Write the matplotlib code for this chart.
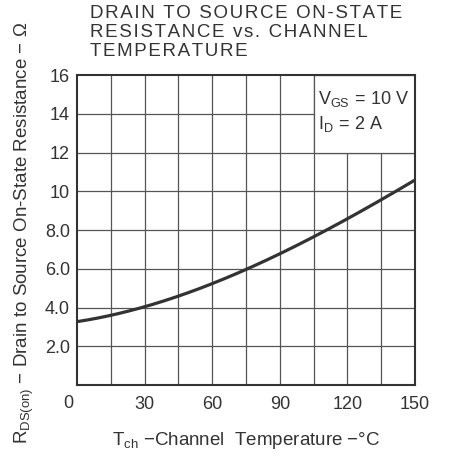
import numpy as np
import matplotlib.pyplot as plt
from matplotlib.patches import Rectangle

plt.rcParams['font.family'] = ['Liberation Sans', 'DejaVu Sans']
plt.rcParams['mathtext.fontset'] = 'custom'
plt.rcParams['mathtext.rm'] = 'Liberation Sans'
plt.rcParams['mathtext.it'] = 'Liberation Sans'

# curve
tch = [0, 15, 30, 45, 60, 75, 90, 105, 120, 135, 150]
rds = [3.26, 3.61, 4.04, 4.59, 5.24, 5.95, 6.75, 7.66, 8.59, 9.57, 10.57]

xticks = [30, 60, 90, 120, 150]
yticks = [2, 4, 6, 8, 10, 12, 14, 16]
ylabels = ['2.0', '4.0', '6.0', '8.0', '10', '12', '14', '16']

title_lines = ['DRAIN TO SOURCE ON-STATE', 'RESISTANCE vs. CHANNEL', 'TEMPERATURE']

ink = '#333333'
gridc = '#555555'


def spaced(s, gap='\u200a'):
    return gap.join(s)


fig = plt.figure(figsize=(4.5, 4.7), dpi=100)
ax = fig.add_axes([77/450, 85/470, 338/450, 310/470])

# grid
for x in range(15, 150, 15):
    ax.axvline(x, color=gridc, lw=0.9, zorder=1)
for y in range(2, 16, 2):
    ax.axhline(y, color=gridc, lw=0.9, zorder=1)
# blank cell for the conditions
ax.add_patch(Rectangle((105, 12), 45, 4, facecolor='white', edgecolor=gridc,
                       lw=0.9, zorder=2))

# smooth curve through the read points
xs = np.linspace(0, 150, 200)
c = np.polyfit(tch, rds, 3)
ax.plot(xs, np.polyval(c, xs), color='#333333', lw=2.3, zorder=3)

ax.set_xlim(0, 150)
ax.set_ylim(0, 16)
ax.set_xticks(xticks)
ax.set_xticklabels([str(v) for v in xticks])
ax.set_yticks(yticks)
ax.set_yticklabels(ylabels)
ax.tick_params(length=0, labelsize=13, colors=ink, pad=5)
ax.tick_params(axis='x', pad=8)
for s in ax.spines.values():
    s.set_color('#333333')
    s.set_linewidth(1.5)
ax.text(-4, -0.95, '0', ha='center', va='center', fontsize=13, color=ink)

ax.text(107, 14.75, r'$\mathregular{V_{GS}\,=\,10\ V}$', fontsize=13,
        color=ink, va='center')
ax.text(107, 13.45, r'$\mathregular{I_{D}\,=\,2\ A}$', fontsize=13,
        color=ink, va='center')

ax.set_xlabel(r'$\mathregular{T_{ch}}$ $-$Channel  Temperature $-$°C',
              fontsize=13.5, color=ink, labelpad=12)
ax.set_ylabel(r'$\mathregular{R_{DS(on)}}$ $-$ Drain to Source On-State Resistance $-$ Ω',
              fontsize=13.5, color=ink)
ax.yaxis.set_label_coords(-0.12, 0.49)

for i, t in enumerate(title_lines):
    fig.text(90/450, 1 - (13 + 19.5*i)/470, spaced(t), ha='left', va='center',
             fontsize=13.5, color=ink)

fig.savefig('out.png', dpi=100)
